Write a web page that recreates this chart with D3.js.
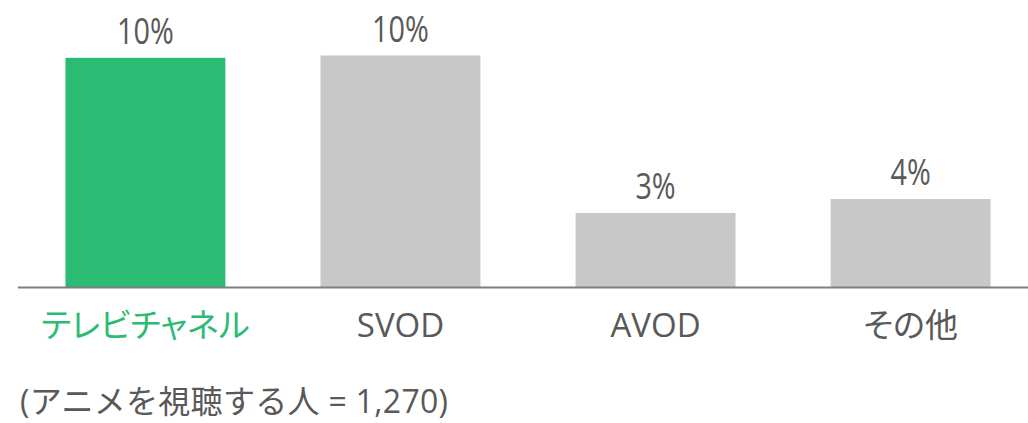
<!DOCTYPE html>
<html>
<head>
<meta charset="utf-8">
<script src="https://cdn.jsdelivr.net/npm/d3@7"></script>
<style>
  html, body { margin: 0; padding: 0; background: #fff; }
  svg { display: block; }
  text { font-family: "Open Sans", "Noto Sans CJK JP", sans-serif; }
  .cat text { font-feature-settings: "palt"; }
</style>
</head>
<body>
<svg id="chart" width="1028" height="423"></svg>
<script>
// Share of anime viewers by main viewing channel (%)
const categories = ["テレビチャネル", "SVOD", "AVOD", "その他"];
const shares = [9.9, 10.0, 3.2, 3.8];
const highlight = ["テレビチャネル"];
const footnote = "(アニメを視聴する人 = 1,270)";

const W = 1028;
const baseY = 287;
const svg = d3.select("#chart");

const x = d3.scaleBand()
  .domain(categories)
  .range([18, 1038])
  .paddingInner(0.373)
  .paddingOuter(0.186);

const y = d3.scaleLinear()
  .domain([0, 10])
  .range([baseY, 55.5]);

const green = "#2bbb73", grey = "#c8c8c8", ink = "#595959";
const fmt = d => d3.format(".0f")(d) + "%";

// bars
svg.append("g")
  .selectAll("rect")
  .data(categories)
  .join("rect")
  .attr("x", d => x(d))
  .attr("width", x.bandwidth())
  .attr("y", (d, i) => y(shares[i]))
  .attr("height", (d, i) => baseY - y(shares[i]))
  .attr("fill", d => highlight.includes(d) ? green : grey);

// value labels (narrow set, squeezed horizontally)
svg.append("g")
  .selectAll("text")
  .data(categories)
  .join("text")
  .attr("transform", (d, i) =>
    `translate(${x(d) + x.bandwidth() / 2},${y(shares[i]) - 14}) scale(0.8,1)`)
  .attr("text-anchor", "middle")
  .attr("font-size", 36)
  .attr("fill", ink)
  .text((d, i) => fmt(shares[i]));

// category axis
const axis = svg.append("g")
  .attr("class", "cat")
  .attr("transform", `translate(0,${baseY})`)
  .call(d3.axisBottom(x).tickSize(0));
axis.select(".domain")
  .attr("d", `M18,0.5H${W}`)
  .attr("stroke", "#7f7f7f")
  .attr("stroke-width", 2);
axis.selectAll(".tick text")
  .attr("y", 50)
  .attr("dy", 0)
  .attr("font-size", 33)
  .attr("font-family", '"Open Sans", "Noto Sans CJK JP", sans-serif')
  .attr("fill", d => highlight.includes(d) ? green : ink);

// sample size note
svg.append("text")
  .attr("x", 20)
  .attr("y", 413)
  .attr("font-size", 32)
  .attr("letter-spacing", 0.3)
  .attr("fill", ink)
  .text(footnote);
</script>
</body>
</html>
